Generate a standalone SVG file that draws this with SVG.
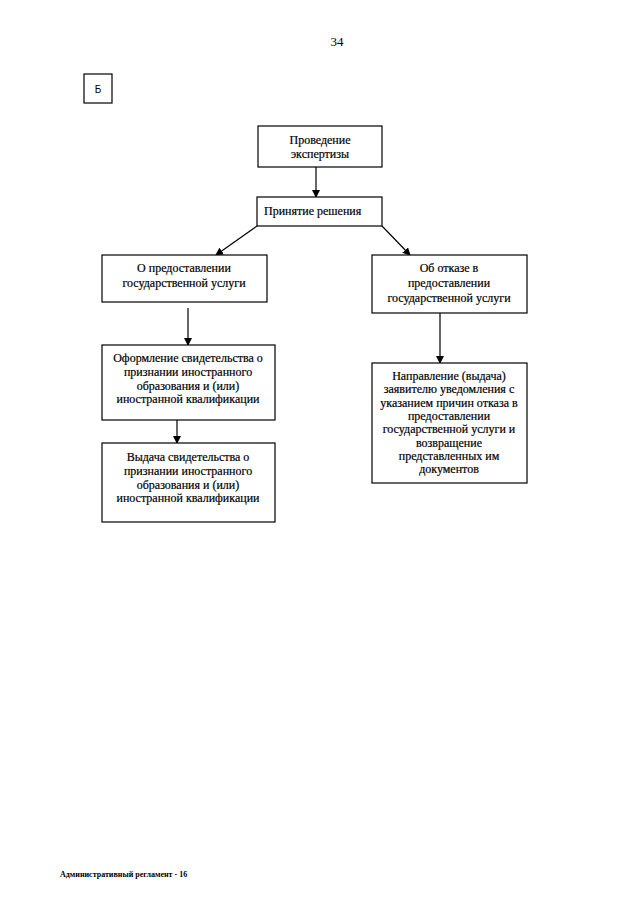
<svg xmlns="http://www.w3.org/2000/svg" width="640" height="905" viewBox="0 0 640 905">
<defs>
<style>
.box{fill:#fff;stroke:#000;stroke-width:1.2}
.t{font-family:"Liberation Serif","Times New Roman",serif;font-size:12px;fill:#000;stroke:#000;stroke-width:0.2;text-anchor:middle}
.c{stroke:#000;stroke-width:1.2;fill:none;marker-end:url(#ah)}
</style>
<marker id="ah" markerWidth="8" markerHeight="8" refX="7" refY="4" orient="auto" markerUnits="userSpaceOnUse">
<path d="M0,0 L8,4 L0,8 Z" fill="#000"/>
</marker>
</defs>
<rect width="640" height="905" fill="#fff"/>
<text x="337" y="46" style="font-family:'Liberation Serif',serif;font-size:13px;text-anchor:middle">34</text>
<g id="b-label">
<rect class="box" x="84" y="74" width="28" height="29"/>
<text x="98" y="93" style="font-family:'Liberation Sans',Arial,sans-serif;font-size:10px;text-anchor:middle">Б</text>
</g>
<g id="connectors">
<line class="c" x1="316" y1="167" x2="316" y2="197"/>
<line class="c" x1="257" y1="226" x2="216" y2="255"/>
<line class="c" x1="382" y1="226" x2="410" y2="255"/>
<line class="c" x1="188" y1="308" x2="188" y2="345"/>
<line class="c" x1="440" y1="313" x2="440" y2="363"/>
<line class="c" x1="177" y1="420" x2="177" y2="443"/>
</g>
<g id="n1">
<rect class="box" x="258" y="126" width="124" height="41"/>
<text class="t" x="320" y="144">Проведение</text>
<text class="t" x="320" y="158">экспертизы</text>
</g>
<g id="n2">
<rect class="box" x="257" y="197" width="125" height="29"/>
<text class="t" x="264" y="215" style="text-anchor:start">Принятие решения</text>
</g>
<g id="n3">
<rect class="box" x="102" y="255" width="165" height="47"/>
<text class="t" x="184" y="272">О предоставлении</text>
<text class="t" x="184" y="287">государственной услуги</text>
</g>
<g id="n4">
<rect class="box" x="372" y="255" width="155" height="58"/>
<text class="t" x="449" y="272">Об отказе в</text>
<text class="t" x="449" y="287">предоставлении</text>
<text class="t" x="449" y="302">государственной услуги</text>
</g>
<g id="n5">
<rect class="box" x="102" y="345" width="173" height="75"/>
<text class="t" x="188" y="362">Оформление свидетельства о</text>
<text class="t" x="188" y="376">признании иностранного</text>
<text class="t" x="188" y="390">образования и (или)</text>
<text class="t" x="188" y="403">иностранной квалификации</text>
</g>
<g id="n6">
<rect class="box" x="102" y="443" width="173" height="79"/>
<text class="t" x="188" y="461">Выдача свидетельства о</text>
<text class="t" x="188" y="475">признании иностранного</text>
<text class="t" x="188" y="489">образования и (или)</text>
<text class="t" x="188" y="502">иностранной квалификации</text>
</g>
<g id="n7">
<rect class="box" x="372" y="363" width="155" height="120"/>
<text class="t" x="449" y="380">Направление (выдача)</text>
<text class="t" x="449" y="393">заявителю уведомления с</text>
<text class="t" x="449" y="407">указанием причин отказа в</text>
<text class="t" x="449" y="420">предоставлении</text>
<text class="t" x="449" y="433">государственной услуги и</text>
<text class="t" x="449" y="447">возвращение</text>
<text class="t" x="449" y="460">представленных им</text>
<text class="t" x="449" y="473">документов</text>
</g>
<text x="60" y="877" style="font-family:'Liberation Serif',serif;font-size:8px;font-weight:bold">Административный регламент - 16</text>
</svg>
